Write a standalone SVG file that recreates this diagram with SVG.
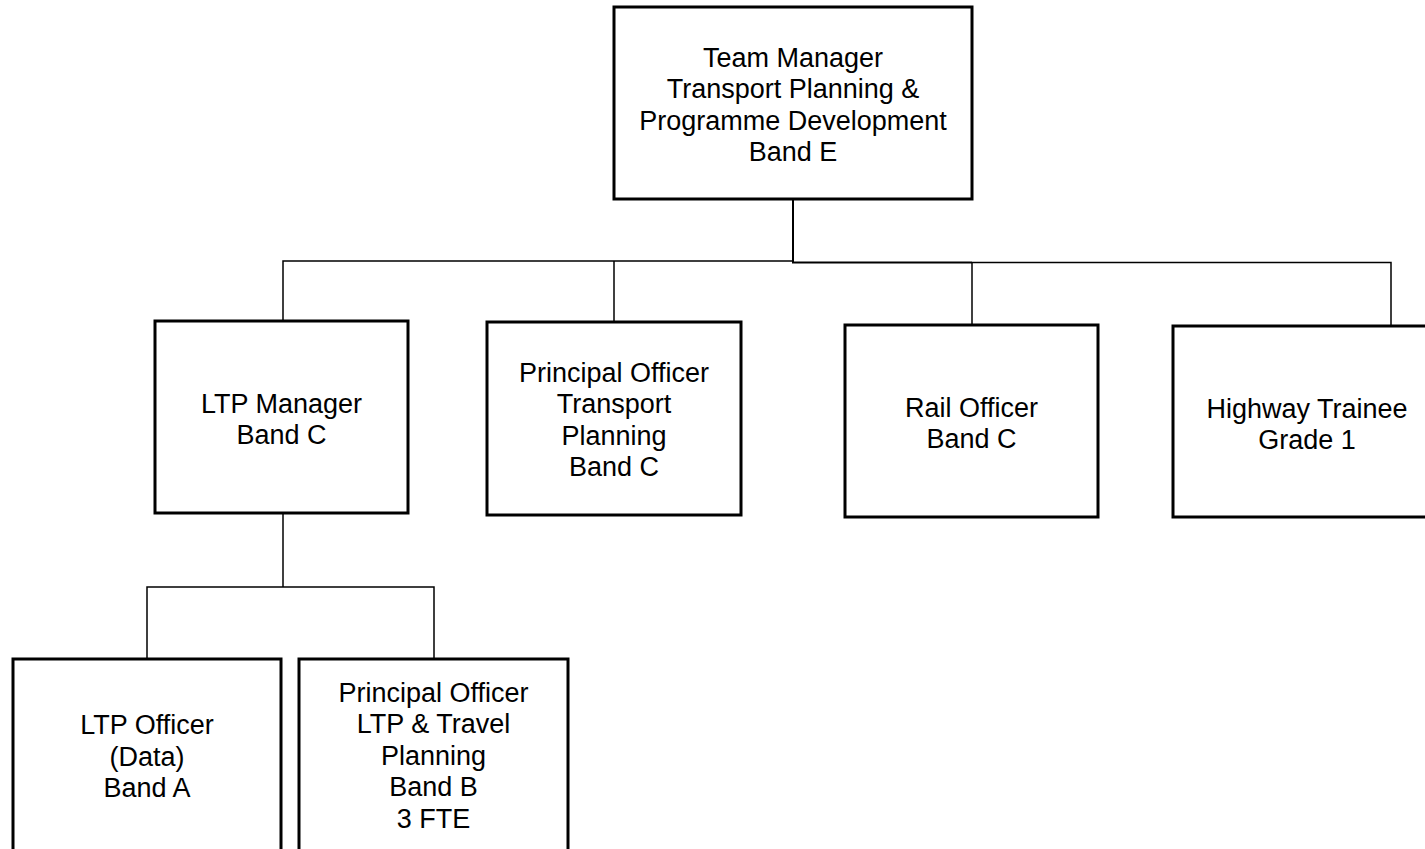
<svg xmlns="http://www.w3.org/2000/svg" width="1425" height="849" viewBox="0 0 1425 849">
<style>
.box{fill:#fff;stroke:#000;stroke-width:3}
.lbl{font-family:"Liberation Sans",Arial,sans-serif;font-size:27px;fill:#000;text-anchor:middle}
.con{fill:none;stroke:#000;stroke-width:1.5}
.stem{fill:none;stroke:#000;stroke-width:2}
</style>
<rect width="1425" height="849" fill="#fff"/>
<g id="connectors">
<path class="stem" d="M793,199 V262.5 H972"/>
<path class="con" d="M972,262.5 H1391 V326"/>
<path class="con" d="M283,321 V261 H793"/>
<path class="con" d="M614,261 V322"/>
<path class="con" d="M972,262 V325"/>
<path class="con" d="M283,513 V587"/>
<path class="con" d="M147,659 V587 H434 V659"/>
</g>
<g id="team-manager">
<rect class="box" x="614" y="7" width="358" height="192"/>
<text class="lbl"><tspan x="793" y="66.5">Team Manager</tspan><tspan x="793" y="98">Transport Planning &amp;</tspan><tspan x="793" y="129.5">Programme Development</tspan><tspan x="793" y="161">Band E</tspan></text>
</g>
<g id="ltp-manager">
<rect class="box" x="155" y="321" width="253" height="192"/>
<text class="lbl"><tspan x="281.5" y="412.5">LTP Manager</tspan><tspan x="281.5" y="444">Band C</tspan></text>
</g>
<g id="principal-officer-tp">
<rect class="box" x="487" y="322" width="254" height="193"/>
<text class="lbl"><tspan x="614" y="381.5">Principal Officer</tspan><tspan x="614" y="413">Transport</tspan><tspan x="614" y="444.5">Planning</tspan><tspan x="614" y="476">Band C</tspan></text>
</g>
<g id="rail-officer">
<rect class="box" x="845" y="325" width="253" height="192"/>
<text class="lbl"><tspan x="971.5" y="416.5">Rail Officer</tspan><tspan x="971.5" y="448">Band C</tspan></text>
</g>
<g id="highway-trainee">
<rect class="box" x="1173" y="326" width="268" height="191"/>
<text class="lbl"><tspan x="1307" y="417.5">Highway Trainee</tspan><tspan x="1307" y="449">Grade 1</tspan></text>
</g>
<g id="ltp-officer">
<rect class="box" x="13" y="659" width="268" height="192"/>
<text class="lbl"><tspan x="147" y="734">LTP Officer</tspan><tspan x="147" y="765.5">(Data)</tspan><tspan x="147" y="797">Band A</tspan></text>
</g>
<g id="principal-officer-ltp">
<rect class="box" x="299" y="659" width="269" height="192"/>
<text class="lbl"><tspan x="433.5" y="701.5">Principal Officer</tspan><tspan x="433.5" y="733">LTP &amp; Travel</tspan><tspan x="433.5" y="764.5">Planning</tspan><tspan x="433.5" y="796">Band B</tspan><tspan x="433.5" y="827.5">3 FTE</tspan></text>
</g>
</svg>
